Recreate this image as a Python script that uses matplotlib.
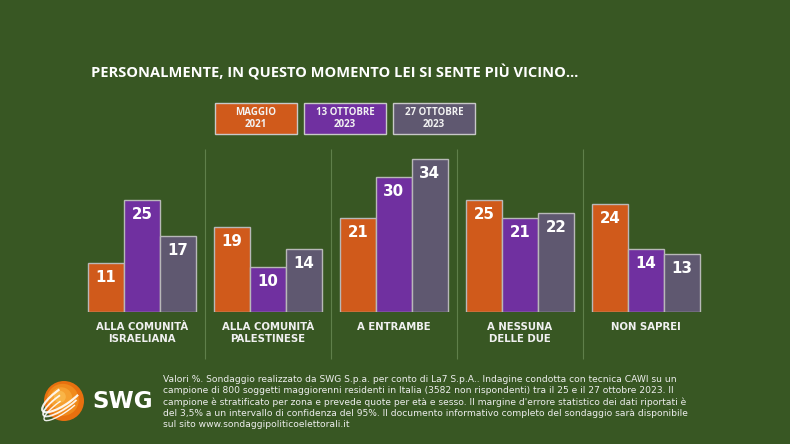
import numpy as np
import matplotlib.pyplot as plt
from matplotlib.patches import Rectangle, Circle, Arc

categories = ['ALLA COMUNITÀ\nISRAELIANA', 'ALLA COMUNITÀ\nPALESTINESE', 'A ENTRAMBE',
              'A NESSUNA\nDELLE DUE', 'NON SAPREI']
series_names = ['MAGGIO\n2021', '13 OTTOBRE\n2023', '27 OTTOBRE\n2023']
maggio_2021 = [11, 19, 21, 25, 24]
ottobre_13 = [25, 10, 30, 21, 14]
ottobre_27 = [17, 14, 34, 22, 13]
series = [maggio_2021, ottobre_13, ottobre_27]
colors = ['#d05a1b', '#7030a0', '#5f5870']

title = 'PERSONALMENTE, IN QUESTO MOMENTO LEI SI SENTE PIÙ VICINO…'
note = ("Valori %. Sondaggio realizzato da SWG S.p.a. per conto di La7 S.p.A.. Indagine condotta con tecnica CAWI su un\n"
        "campione di 800 soggetti maggiorenni residenti in Italia (3582 non rispondenti) tra il 25 e il 27 ottobre 2023. Il\n"
        "campione è stratificato per zona e prevede quote per età e sesso. Il margine d'errore statistico dei dati riportati è\n"
        "del 3,5% a un intervallo di confidenza del 95%. Il documento informativo completo del sondaggio sarà disponibile\n"
        "sul sito www.sondaggipoliticoelettorali.it")

bg = '#385723'
W, H = 790, 444
fig = plt.figure(figsize=(7.9, 4.44), dpi=100, facecolor=bg)

# main bar axes: x from 79 to 709 px, baseline at 312 px from top, 4.5 px per unit
ax = fig.add_axes([79 / W, (H - 312) / H, 630 / W, 160 / H])
ax.set_facecolor('none')
ax.set_xlim(-0.5, 4.5)
ax.set_ylim(0, 160 / 4.5)
ax.axis('off')

bw = 36 / 126
x = np.arange(len(categories))
for i, (vals, c) in enumerate(zip(series, colors)):
    xs = x + (i - 1) * bw
    ax.bar(xs, vals, width=bw, color=c, edgecolor='#b8b8b8', linewidth=1.0)
    for xi, v in zip(xs, vals):
        ax.text(xi, v - 3.3, str(v), ha='center', va='center', color='white',
                fontsize=10.8, fontweight='bold')

# separators
ax.vlines(x[:-1] + 0.5, -47 / 4.5, 160 / 4.5 + 0.7, color='#5f7f4a', linewidth=0.8, clip_on=False)

for xi, lab in zip(x, categories):
    ax.text(xi, -9.5 / 4.5, lab, ha='center', va='top', color='#f0f0f0', fontsize=7.3,
            fontweight='bold', linespacing=1.25)

# title
fig.text(91 / W, 1 - 73 / H, title, ha='left', va='center', color='white',
         fontsize=10.5, fontweight='bold', family='Open Sans')

# legend boxes
box_x = [215, 304, 393]
for bx, name, c in zip(box_x, series_names, colors):
    fig.patches.append(Rectangle((bx / W, 1 - 134 / H), 82 / W, 31 / H, transform=fig.transFigure,
                                 facecolor=c, edgecolor='#c8c8c8', linewidth=1.0))
    fig.text((bx + 41) / W, 1 - 118.5 / H, name, ha='center', va='center', color='#f2f2f2',
             fontsize=7.0, fontweight='bold', family='Open Sans', linespacing=1.15)

# footnote
fig.text(163 / W, 1 - 375 / H, note, ha='left', va='top', color='#eeeeee',
         fontsize=6.55, linespacing=1.3)

# logo
lax = fig.add_axes([20 / W, 1 - 432 / H, 140 / W, 64 / H])
lax.set_xlim(0, 140)
lax.set_ylim(0, 64)
lax.set_aspect('equal')
lax.axis('off')
for r, col in [(20, '#e8700f'), (16, '#f08a1c'), (11, '#f6a030'), (6, '#f9b548')]:
    lax.add_patch(Circle((44 - (20 - r) * 0.3, 31 + (20 - r) * 0.3), r, color=col, lw=0))
for k, (w, h, ang) in enumerate([(52, 16, 35), (50, 14, 35), (48, 12, 35)]):
    lax.add_patch(Arc((44, 31 - k * 5 + 5), w, h, angle=ang, theta1=90, theta2=330,
                      color='white', lw=1.6 - k * 0.3, alpha=0.9))
lax.text(72, 31, 'SWG', ha='left', va='center', color='white', fontsize=16.5, fontweight='bold')

fig.savefig('out.png', dpi=100, facecolor=bg)
